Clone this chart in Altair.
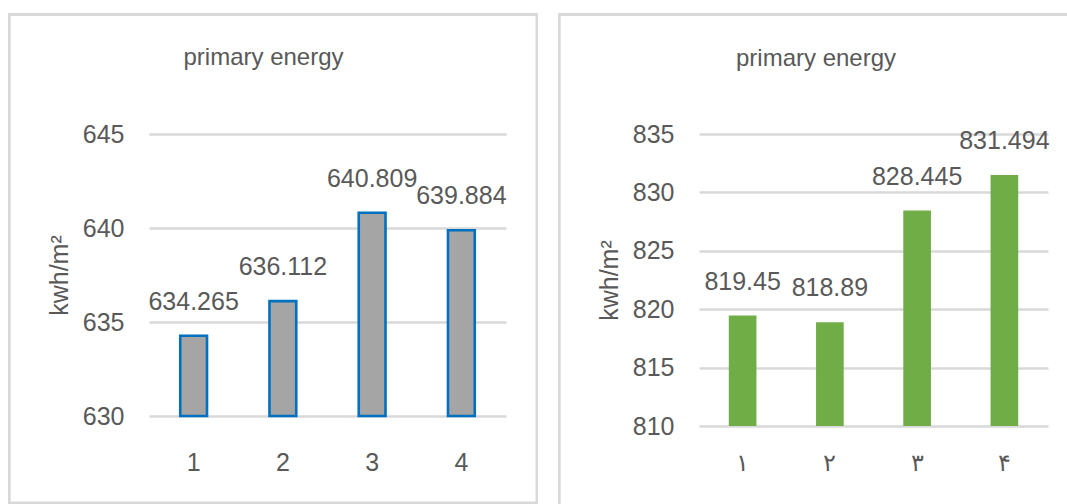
import altair as alt
import pandas as pd

# ---- data -------------------------------------------------------------
left_cats = ["1", "2", "3", "4"]
left_vals = [634.265, 636.112, 640.809, 639.884]
left_ticks = [630, 635, 640, 645]

right_cats = ["۱", "۲", "۳", "۴"]
right_vals = [819.45, 818.89, 828.445, 831.494]
right_ticks = [810, 815, 820, 825, 830, 835]

chart_title = "primary energy"
y_title = "kwh/m²"

# ---- style ------------------------------------------------------------
FONT = "Liberation Sans"
TEXT = "#595959"
GRID = "#d9d9d9"
PAGE_W, PAGE_H = 1067, 504
OX, OY = 149, 134          # top-left corner of the left plot area on the page
LW, LH = 357, 282          # left plot area
RW, RH = 349, 292          # right plot area
GAP = 193                  # distance between the two plot areas
RX = OX + LW + GAP         # left edge of the right plot area


def one():
    return alt.Data(values=[{}])


def box(x, x2, y, y2, color=GRID, opacity=1):
    """Thin filled rectangle, positioned in pixels relative to a plot origin."""
    return alt.Chart(one()).mark_rect(fill=color, strokeWidth=0, opacity=opacity).encode(
        x=alt.value(x), x2=alt.value(x2), y=alt.value(y), y2=alt.value(y2)
    )


def heading(cx, base_y):
    return alt.Chart(one()).mark_text(
        font=FONT, fontSize=24, color=TEXT, align="center", baseline="alphabetic"
    ).encode(x=alt.value(cx), y=alt.value(base_y), text=alt.value(chart_title))


def panel(cats, vals, ticks, w, h, bar_style, pad_inner, x_label_pad, x_label_size):
    df = pd.DataFrame({"cat": cats, "val": vals, "label": [str(v) for v in vals]})
    x = alt.X(
        "cat:N",
        sort=None,
        scale=alt.Scale(paddingInner=pad_inner, paddingOuter=pad_inner / 2),
        axis=alt.Axis(
            title=None, labelAngle=0, labelFont=FONT, labelFontSize=x_label_size,
            labelColor=TEXT, labelPadding=x_label_pad, labelBaseline="middle",
            ticks=False, tickSize=0, domain=False, grid=False,
        ),
    )
    y = alt.Y(
        "val:Q",
        scale=alt.Scale(domain=[ticks[0], ticks[-1]], zero=False, nice=False),
        axis=alt.Axis(
            values=ticks, title=y_title, grid=True, gridColor=GRID, gridWidth=2.5,
            domain=False, ticks=False, tickSize=0, labelFont=FONT, labelFontSize=25,
            labelColor=TEXT, labelPadding=25, titleFont=FONT, titleFontSize=25,
            titleColor=TEXT, titleFontWeight="normal", titleAngle=270,
            titleX=-90, titleY=h / 2, titleAlign="center", titleBaseline="middle",
        ),
    )
    base = alt.Chart(df)
    bars = base.mark_bar(**bar_style).encode(x=x, y=y, y2=alt.datum(ticks[0]))
    labels = base.mark_text(
        font=FONT, fontSize=25, color=TEXT, align="center", baseline="alphabetic", dy=-26
    ).encode(x=alt.X("cat:N", sort=None), y=alt.Y("val:Q"), text="label:N")
    return bars, labels


# ---- left panel ---------------------------------------------------------
l_bars, l_labels = panel(
    left_cats, left_vals, left_ticks, LW, LH,
    dict(fill="#a5a5a5", stroke="#0070c0", strokeWidth=2.6),
    0.70, 46, 25,
)
left = alt.layer(
    # invisible rectangle spanning the whole canvas, so the page is exactly PAGE_W x PAGE_H
    box(-OX, PAGE_W - OX, -OY, PAGE_H - OY, color="white", opacity=0),
    # grey frame around the left chart
    box(8 - OX, 538 - OX, 13 - OY, 16 - OY),
    box(8 - OX, 10.7 - OX, 13 - OY, 504 - OY),
    box(535.5 - OX, 538 - OX, 13 - OY, 504 - OY),
    box(8 - OX, 538 - OX, 501.5 - OY, 504 - OY),
    heading(263.5 - OX, 65 - OY),
    l_bars,
    l_labels,
).properties(width=LW, height=LH)

# ---- right panel --------------------------------------------------------
r_bars, r_labels = panel(
    right_cats, right_vals, right_ticks, RW, RH,
    dict(fill="#70ad47"),
    0.683, 37, 24,
)
right = alt.layer(
    box(558 - RX, 560.7 - RX, 13 - OY, 504 - OY),
    box(558 - RX, PAGE_W - RX, 13 - OY, 16 - OY),
    heading(816 - RX, 66 - OY),
    r_bars,
    r_labels,
).properties(width=RW, height=RH)

chart = (
    alt.hconcat(left, right, spacing=GAP, bounds="flush")
    .properties(padding=0)
    .configure_view(strokeWidth=0)
)

chart.save("out.html", embed_options={"renderer": "svg", "actions": False})
